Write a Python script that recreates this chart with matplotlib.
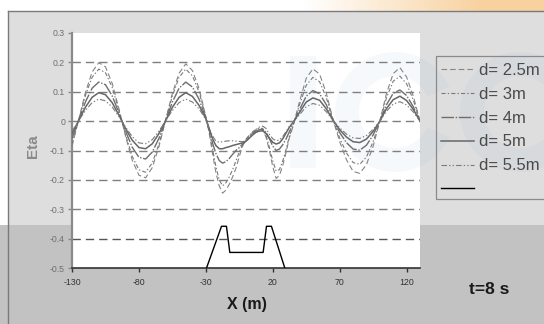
import numpy as np
import matplotlib
matplotlib.use("Agg")
import matplotlib.pyplot as plt
from matplotlib.patches import Rectangle, Wedge

plt.rcParams['font.family'] = ['Liberation Sans', 'DejaVu Sans']
plt.rcParams['axes.unicode_minus'] = False
plt.rcParams['lines.scale_dashes'] = False

# ---------------- data ----------------
x_left = [-130, -125, -120, -115, -110, -105, -100, -95, -90, -85, -80, -75, -70,
          -65, -60, -55, -50, -45, -40, -35, -30]
x_mid = [-27.5, -25, -22.5, -20, -17.5, -15, -12.5, -10, -7.5, -5, -2.5, 0, 2.5,
         5, 7.5, 10, 12.5, 15, 17.5, 20, 22.5, 25, 27.5, 30, 32.5]
x_right = [35, 40, 45, 50, 55, 60, 65, 70, 75, 80, 85, 90, 95, 100, 105, 110,
           115, 120, 125, 130]
x_pos = x_left + x_mid + x_right

eta_d25 = ([-0.085, 0.005, 0.097, 0.167, 0.199, 0.185, 0.129, 0.043, -0.051, -0.133,
            -0.184, -0.193, -0.158, -0.086, 0.005, 0.095, 0.163, 0.195, 0.172, 0.11, 0.015]
           + [-0.04, -0.11, -0.175, -0.22, -0.245, -0.235, -0.215, -0.19, -0.16, -0.12,
              -0.085, -0.062, -0.048, -0.038, -0.032, -0.028, -0.03, -0.055, -0.1, -0.155,
              -0.195, -0.185, -0.15, -0.105, -0.055]
           + [-0.02, 0.067, 0.146, 0.178, 0.16, 0.095, 0.006, -0.07, -0.131, -0.171,
              -0.178, -0.148, -0.085, 0.0, 0.095, 0.162, 0.182, 0.15, 0.085, 0.0])
eta_d3 = ([-0.078, 0.004, 0.087, 0.149, 0.177, 0.165, 0.115, 0.038, -0.046, -0.12,
           -0.166, -0.174, -0.142, -0.078, 0.004, 0.086, 0.149, 0.177, 0.154, 0.098, 0.014]
          + [-0.035, -0.095, -0.155, -0.2, -0.22, -0.21, -0.19, -0.165, -0.135, -0.105,
             -0.08, -0.062, -0.048, -0.036, -0.028, -0.024, -0.025, -0.048, -0.09, -0.135,
             -0.17, -0.165, -0.135, -0.095, -0.05]
          + [-0.017, 0.056, 0.122, 0.149, 0.134, 0.08, 0.005, -0.058, -0.108, -0.141,
             -0.147, -0.122, -0.07, 0.0, 0.08, 0.136, 0.153, 0.127, 0.072, 0.0])
eta_d4 = ([-0.059, 0.003, 0.065, 0.112, 0.133, 0.124, 0.086, 0.029, -0.034, -0.089,
           -0.123, -0.129, -0.105, -0.058, 0.003, 0.065, 0.112, 0.133, 0.116, 0.074, 0.01]
          + [-0.03, -0.075, -0.11, -0.134, -0.143, -0.138, -0.127, -0.113, -0.1, -0.09,
             -0.078, -0.068, -0.055, -0.043, -0.034, -0.029, -0.028, -0.038, -0.06, -0.085,
             -0.1, -0.095, -0.08, -0.06, -0.035]
          + [-0.01, 0.039, 0.085, 0.104, 0.093, 0.056, 0.004, -0.039, -0.073, -0.095,
             -0.099, -0.082, -0.047, 0.0, 0.056, 0.095, 0.106, 0.087, 0.049, 0.0])
eta_d5 = ([-0.043, 0.002, 0.047, 0.081, 0.097, 0.09, 0.063, 0.021, -0.025, -0.065,
           -0.09, -0.094, -0.077, -0.042, 0.002, 0.047, 0.081, 0.097, 0.084, 0.053, 0.008]
          + [-0.025, -0.06, -0.083, -0.094, -0.094, -0.09, -0.087, -0.083, -0.08, -0.077,
             -0.074, -0.068, -0.058, -0.047, -0.038, -0.034, -0.033, -0.042, -0.058, -0.072,
             -0.078, -0.074, -0.06, -0.04, -0.02]
          + [-0.006, 0.03, 0.065, 0.079, 0.071, 0.042, 0.003, -0.029, -0.054, -0.07,
             -0.073, -0.061, -0.035, 0.0, 0.043, 0.073, 0.085, 0.07, 0.04, 0.0])
eta_d55 = ([-0.034, 0.002, 0.036, 0.063, 0.075, 0.069, 0.048, 0.016, -0.02, -0.053,
            -0.074, -0.077, -0.063, -0.034, 0.002, 0.036, 0.063, 0.075, 0.065, 0.041, 0.006]
           + [-0.025, -0.05, -0.068, -0.072, -0.07, -0.068, -0.067, -0.067, -0.068, -0.069,
              -0.07, -0.066, -0.055, -0.04, -0.028, -0.02, -0.017, -0.025, -0.045, -0.06,
              -0.067, -0.064, -0.052, -0.035, -0.017]
           + [-0.005, 0.022, 0.049, 0.06, 0.054, 0.032, 0.002, -0.023, -0.044, -0.057,
              -0.059, -0.049, -0.028, 0.0, 0.034, 0.058, 0.066, 0.055, 0.031, 0.0])

bed_x = [-29.5, -18.3, -14.6, -12.1, 12.8, 15.3, 19.0, 29.0]
bed_y = [-0.5, -0.358, -0.358, -0.447, -0.447, -0.358, -0.358, -0.5]

series_labels = ['d= 2.5m', 'd= 3m', 'd= 4m', 'd= 5m', 'd= 5.5m']
series_values = [eta_d25, eta_d3, eta_d4, eta_d5, eta_d55]

x_ticks = [-130, -80, -30, 20, 70, 120]
y_ticks = [0.3, 0.2, 0.1, 0.0, -0.1, -0.2, -0.3, -0.4, -0.5]
y_tick_labels = ['0.3', '0.2', '0.1', '0', '-0.1', '-0.2', '-0.3', '-0.4', '-0.5']
grid_levels = [0.2, 0.1, 0.0, -0.1, -0.2, -0.3, -0.4]

# ---------------- styles ----------------
styles = [
    dict(color='#858585', lw=0.8, ls=(0, (4, 2.2))),
    dict(color='#7a7a7a', lw=0.8, ls=(0, (3, 1.5, 1, 1.5))),
    dict(color='#6e6e6e', lw=1.0, ls=(0, (9, 1.2, 1, 1.2))),
    dict(color='#666666', lw=1.1, ls='-'),
    dict(color='#7a7a7a', lw=0.8, ls=(0, (4, 1.5, 1, 1.5, 1, 1.5))),
]

W, H = 544, 324
fig = plt.figure(figsize=(W / 100, H / 100), dpi=100)

# background
bg = fig.add_axes([0, 0, 1, 1], zorder=-10)
bg.set_xlim(0, W)
bg.set_ylim(H, 0)
bg.axis('off')
bg.add_patch(Rectangle((0, 0), W, H, color='white', lw=0))
grad = np.zeros((1, 300, 4))
grad[..., 0] = 0.97
grad[..., 1] = 0.80
grad[..., 2] = 0.58
grad[0, :, 3] = np.clip(np.linspace(-0.3, 1.2, 300), 0, 0.9)
bg.imshow(grad, extent=(244, W, 11, 0), aspect='auto', zorder=1)
bg.add_patch(Rectangle((8, 11), W - 8, 214, color='#dedede', lw=0, zorder=2))
bg.add_patch(Rectangle((0, 225), W, H - 225, color='#c2c2c2', lw=0, zorder=2))
bg.plot([8, 8], [11, H], color='#7a7a7a', lw=1.0, zorder=3)
bg.plot([8, W], [11, 11], color='#7a7a7a', lw=1.0, zorder=3)

# main axes
ax = fig.add_axes([72 / W, 56 / H, 348 / W, 235 / H])
ax.set_facecolor('white')
ax.set_xlim(-130, 130)
ax.set_ylim(-0.5, 0.3)

# faint watermark (drawn in pixel coordinates, under the curves)
wm_color = (0.45, 0.62, 0.85)
for p in [Rectangle((290, 56), 26, 112),
          Wedge((395, 112), 60, 25, 335, width=24),
          Wedge((520, 112), 60, 25, 335, width=24)]:
    p.set_transform(bg.transData)
    p.set_facecolor(wm_color)
    p.set_alpha(0.06)
    p.set_edgecolor('none')
    p.set_clip_on(False)
    p.set_zorder(0.5)
    ax.add_patch(p)

ax.hlines(grid_levels[:-1], -130, 130, colors='#7f7f7f', lw=1.0, linestyles=[(0, (6, 3.6))], zorder=1)
ax.hlines(grid_levels[-1:], -130, 130, colors='#555555', lw=1.0, linestyles=[(0, (6, 3.6))], zorder=1)

handles = []
for vals, st, lab in zip(series_values, styles, series_labels):
    h, = ax.plot(x_pos, vals, color=st['color'], lw=st['lw'], ls=st['ls'], label=lab, zorder=3)
    handles.append(h)
bh, = ax.plot(bed_x, bed_y, color='black', lw=1.0, zorder=4)

for s in ['top', 'right']:
    ax.spines[s].set_visible(False)
ax.spines['left'].set_color('#8a8a8a')
ax.spines['left'].set_linewidth(1.6)
ax.spines['bottom'].set_color('#333333')
ax.spines['bottom'].set_linewidth(1.2)

ax.set_xticks(x_ticks)
ax.set_xticklabels([str(v) for v in x_ticks])
ax.set_yticks(y_ticks)
ax.set_yticklabels(y_tick_labels)
ax.tick_params(axis='x', direction='out', length=3, width=1, color='#333333',
               labelsize=6.3, labelcolor='#333333', pad=4)
ax.tick_params(axis='y', direction='out', length=3, width=1, color='#8a8a8a',
               labelsize=6.3, labelcolor='#707070', pad=2)

fig.text(33 / W, 1 - 146 / H, 'Eta', rotation=90, ha='center', va='center',
         fontsize=11, fontweight='bold', color='#8a8a8a')
fig.text(247 / W, 1 - 305 / H, 'X (m)', ha='center', va='center',
         fontsize=11.5, fontweight='bold', color='#1a1a1a')
fig.text(489 / W, 1 - 289 / H, 't=8 s', ha='center', va='center',
         fontsize=12.5, fontweight='bold', color='#1a1a1a')

# legend frame (extends beyond the right edge, as in the source)
bg.add_patch(Rectangle((436, 56), 140, 143, facecolor='none', edgecolor='#8a8a8a',
                       lw=0.9, zorder=5))
leg = ax.legend(handles + [bh], series_labels + [''], loc='upper left',
                bbox_to_anchor=(436 / W, 1 - 58 / H), bbox_transform=fig.transFigure,
                frameon=False, fontsize=12, handlelength=2.0, handletextpad=0.3,
                labelspacing=0.53, borderpad=0.3, borderaxespad=0)
for t in leg.get_texts():
    t.set_color('#4a4a4a')

fig.savefig('out.png', dpi=100)
